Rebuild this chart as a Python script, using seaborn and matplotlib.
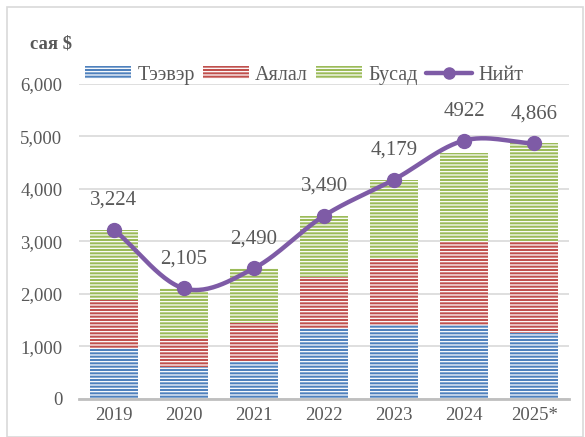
import numpy as np
import pandas as pd
import seaborn as sns
import matplotlib.pyplot as plt
from matplotlib.patches import Patch, Rectangle
from matplotlib.lines import Line2D

years = ["2019", "2020", "2021", "2022", "2023", "2024", "2025*"]
teever = [970, 610, 720, 1350, 1410, 1410, 1265]   # Тээвэр
ayalal = [920, 530, 730, 975, 1255, 1585, 1730]    # Аялал
busad = [1334, 965, 1040, 1165, 1514, 1690, 1880]  # Бусад
niit = [3224, 2105, 2490, 3490, 4179, 4922, 4866]  # Нийт
niit_labels = ["3,224", "2,105", "2,490", "3,490", "4,179", "4922", "4,866"]

sns.set_style("white")
plt.rcParams["font.family"] = ["Liberation Serif", "DejaVu Serif"]
plt.rcParams["hatch.linewidth"] = 0.9
grey = "#595959"

c_blue, c_red, c_green, c_purple = "#4F81BD", "#C0504D", "#9BBB59", "#7E5BA6"
hatch = "-----"

df = pd.DataFrame({"year": years, "teever": teever, "ayalal": ayalal, "busad": busad})
df["cum1"] = df["teever"]
df["cum2"] = df["cum1"] + df["ayalal"]
df["cum3"] = df["cum2"] + df["busad"]

fig = plt.figure(figsize=(5.85, 4.37), dpi=100)
ax = fig.add_axes([0.135, 0.087, 0.838, 0.721])

# stacked bars: draw totals back to front
for col, color in [("cum3", c_green), ("cum2", c_red), ("cum1", c_blue)]:
    sns.barplot(data=df, x="year", y=col, color=color, width=0.68,
                saturation=1, ax=ax, zorder=2)
for p in ax.patches:
    p.set_edgecolor("white")
    p.set_linewidth(0)
    p.set_hatch(hatch)

# smoothed total line (Catmull-Rom through data points)
x = np.arange(len(niit), dtype=float)
y = np.array(niit, dtype=float)
px = np.concatenate([[2 * x[0] - x[1]], x, [2 * x[-1] - x[-2]]])
py = np.concatenate([[2 * y[0] - y[1]], y, [2 * y[-1] - y[-2]]])
sx, sy = [], []
t = np.linspace(0, 1, 30)
for i in range(1, len(px) - 2):
    for arr, out in [(px, sx), (py, sy)]:
        p0, p1, p2, p3 = arr[i - 1], arr[i], arr[i + 1], arr[i + 2]
        out.extend(0.5 * ((2 * p1) + (-p0 + p2) * t
                          + (2 * p0 - 5 * p1 + 4 * p2 - p3) * t ** 2
                          + (-p0 + 3 * p1 - 3 * p2 + p3) * t ** 3))
ax.plot(sx, sy, color=c_purple, lw=3.2, zorder=4, solid_capstyle="round")
ax.plot(x, y, "o", color=c_purple, ms=10, zorder=5)

for xi, yi, lab in zip(x, y, niit_labels):
    ax.annotate(lab, (xi, yi), xytext=(0, 21), textcoords="offset points",
                ha="center", va="center", fontsize=15, color=grey)

ax.set_ylim(0, 6000)
ax.set_xlim(-0.5, 6.5)
ax.set_yticks(range(0, 6001, 1000))
ax.set_yticklabels([f"{v:,}" for v in range(0, 6001, 1000)])
ax.set_xlabel("")
ax.set_ylabel("")
ax.tick_params(axis="both", length=0, labelsize=13.5, labelcolor=grey)
ax.tick_params(axis="y", pad=12)
ax.tick_params(axis="x", pad=6)
ax.yaxis.grid(True, color="#D9D9D9", lw=1.2, zorder=0)
ax.set_axisbelow(True)
for s in ["top", "right", "left"]:
    ax.spines[s].set_visible(False)
ax.spines["bottom"].set_color("#BFBFBF")
ax.spines["bottom"].set_linewidth(2)
ax.spines["bottom"].set_zorder(6)

handles = [
    Patch(facecolor=c_blue, edgecolor="white", lw=0, hatch=hatch),
    Patch(facecolor=c_red, edgecolor="white", lw=0, hatch=hatch),
    Patch(facecolor=c_green, edgecolor="white", lw=0, hatch=hatch),
    Line2D([], [], color=c_purple, lw=3.2, marker="o", ms=8),
]
fig.legend(handles, ["Тээвэр", "Аялал", "Бусад", "Нийт"], ncol=4,
           loc="center", bbox_to_anchor=(0.52, 0.828), frameon=False,
           fontsize=14.5, labelcolor=grey, handlelength=2.3, handleheight=0.6,
           handletextpad=0.3, columnspacing=0.4)

fig.text(0.052, 0.9, "сая $", fontsize=13.5, fontweight="bold", color=grey,
         ha="left", va="center")
fig.patches.append(Rectangle((0.012, 0.0), 0.985, 0.985, transform=fig.transFigure,
                             fill=False, edgecolor="#D9D9D9", lw=1.2))

fig.savefig("out.png", dpi=100)
